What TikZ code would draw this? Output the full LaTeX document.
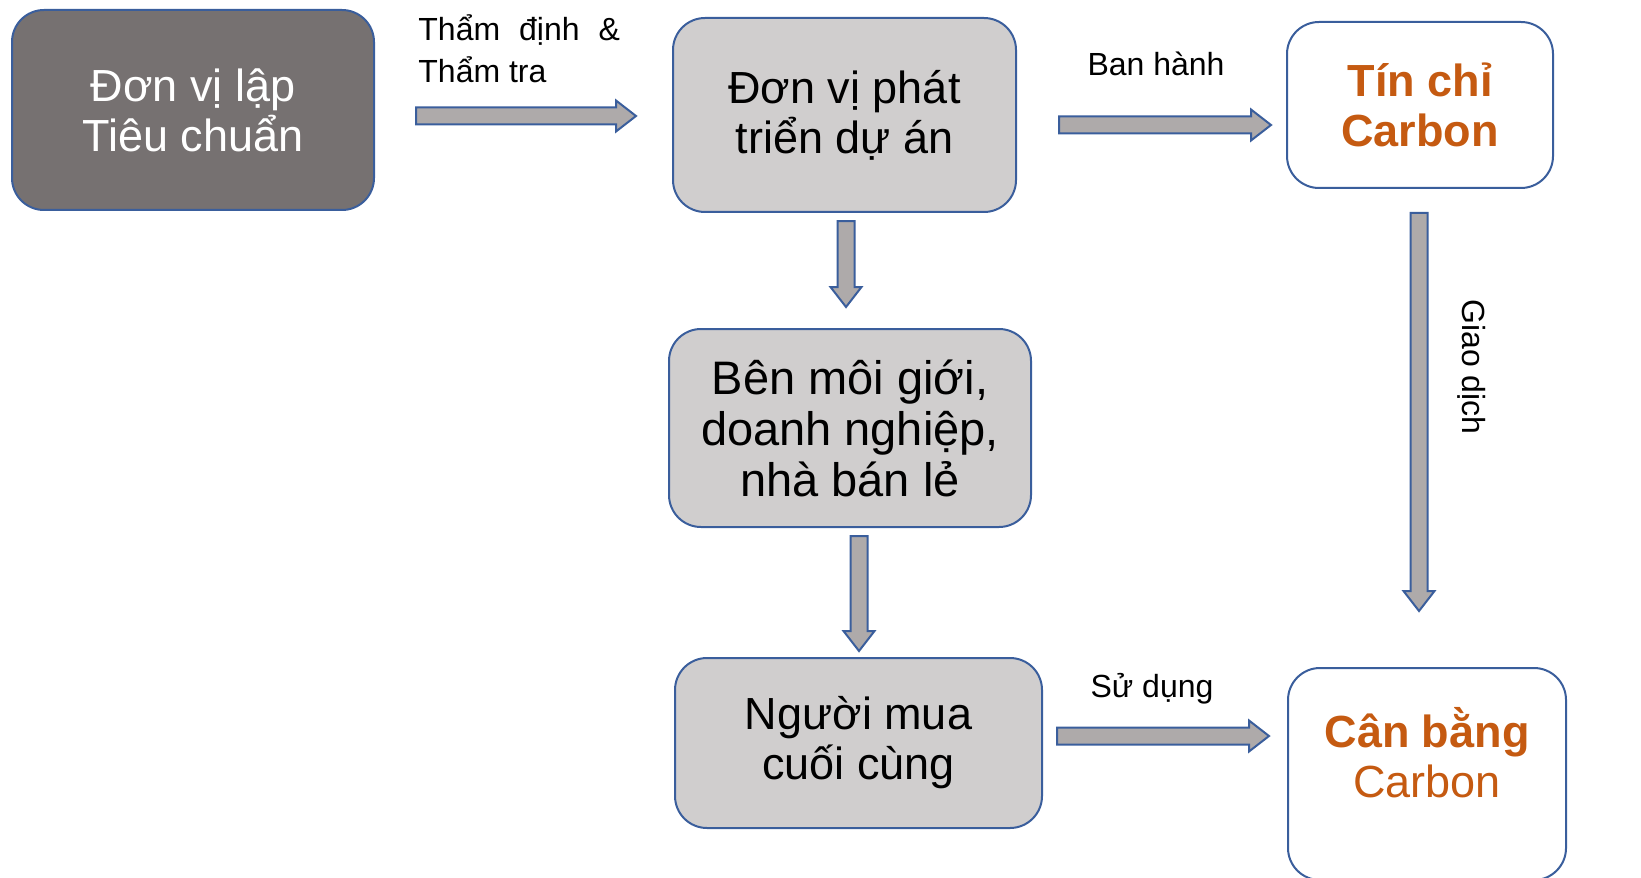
\documentclass[tikz,border=0pt]{standalone}
\usepackage{fontspec}
\setmainfont{Liberation Sans}
\usetikzlibrary{calc}
\definecolor{edgeblue}{HTML}{3A5E9C}
\definecolor{darkbox}{HTML}{767171}
\definecolor{lightbox}{HTML}{D0CECE}
\definecolor{arrowgray}{HTML}{AEAAAA}
\definecolor{carbon}{HTML}{C55A11}

\begin{document}
\begin{tikzpicture}[x=0.5pt,y=-0.5pt,
  box/.style={rectangle,draw=edgeblue,line width=1pt,rounded corners=16pt,align=center,
    font=\fontsize{22.5}{25}\selectfont},
  dark/.style={box,fill=darkbox,text=white},
  light/.style={box,fill=lightbox,text=black},
  plain/.style={box,fill=white,text=carbon},
  lbl/.style={font=\fontsize{16}{21}\selectfont,text=black,inner sep=0pt},
  along/.style={shift={(\p1)},rotate=\n1},
  fat/.style={fill=arrowgray,draw=edgeblue,line width=1pt,
    to path={let \p1=(\tikztostart),\p2=(\tikztotarget),
      \n1={atan2(\y2-\y1,\x2-\x1)},\n2={veclen(\x2-\x1,\y2-\y1)},\n3={\n2-10pt} in
      ([along]0pt,-4.25pt) -- ([along]\n3,-4.25pt) -- ([along]\n3,-7.75pt)
      -- ([along]\n2,0pt) -- ([along]\n3,7.75pt) -- ([along]\n3,4.25pt)
      -- ([along]0pt,4.25pt) -- cycle}}]
\useasboundingbox (0,0) rectangle (1641,877);

\node[dark,minimum width=181pt,minimum height=100pt] (lap) at (193,110) {Đơn vị lập\\Tiêu chuẩn};
\node[light,minimum width=171.5pt,minimum height=97pt] (phat) at (844.5,115) {Đơn vị phát\\triển dự án};
\node[plain,minimum width=133pt,minimum height=83pt] (tinchi) at (1420,105) {\textbf{Tín chỉ}\\\textbf{Carbon}};
\node[light,minimum width=181pt,minimum height=99pt,font=\fontsize{23.5}{25.5}\selectfont] (moigioi) at (850,428) {Bên môi giới,\\doanh nghiệp,\\nhà bán lẻ};
\node[light,minimum width=183.5pt,minimum height=85pt] (nguoimua) at (858.5,743) {Người mua\\cuối cùng};
\node[plain,minimum width=139pt,minimum height=106pt,text depth=22pt] (canbang) at (1427,774) {\textbf{Cân bằng}\\Carbon};

\coordinate (lap-out) at ([shift={(41,6)}]lap.east);
\coordinate (phat-in) at ([shift={(-36,1)}]phat.west);
\coordinate (phat-out) at ([shift={(42,10)}]phat.east);
\coordinate (tinchi-in) at ([shift={(-15,20)}]tinchi.west);
\coordinate (phat-down) at ([shift={(1.5,8)}]phat.south);
\coordinate (moigioi-in) at ([shift={(-4,-21)}]moigioi.north);
\coordinate (moigioi-out) at ([shift={(9,8)}]moigioi.south);
\coordinate (nguoimua-in) at ([shift={(0.5,-6)}]nguoimua.north);
\coordinate (tinchi-out) at ([shift={(-1,24)}]tinchi.south);
\coordinate (canbang-top) at ([shift={(-8,-56)}]canbang.north);
\coordinate (nguoimua-out) at ([shift={(14,-7)}]nguoimua.east);
\coordinate (canbang-left) at ([shift={(-18,-38)}]canbang.west);

\draw[fat] (lap-out) to (phat-in);
\draw[fat] (phat-out) to (tinchi-in);
\draw[fat] (phat-down) to (moigioi-in);
\draw[fat] (moigioi-out) to (nguoimua-in);
\draw[fat] (tinchi-out) to (canbang-top);
\draw[fat] (nguoimua-out) to (canbang-left);

\node[lbl,anchor=north west,align=left] (thamdinh) at (418,14) {Thẩm\hspace{9.5pt}định\hspace{9.5pt}\&\\Thẩm tra};
\node[lbl,anchor=base] (banhanh) at (1156,76) {Ban hành};
\node[lbl,anchor=base] (sudung) at (1152,697) {Sử dụng};
\node[lbl,rotate=-90] (giaodich) at (1472,367) {Giao dịch};
\end{tikzpicture}
\end{document}
